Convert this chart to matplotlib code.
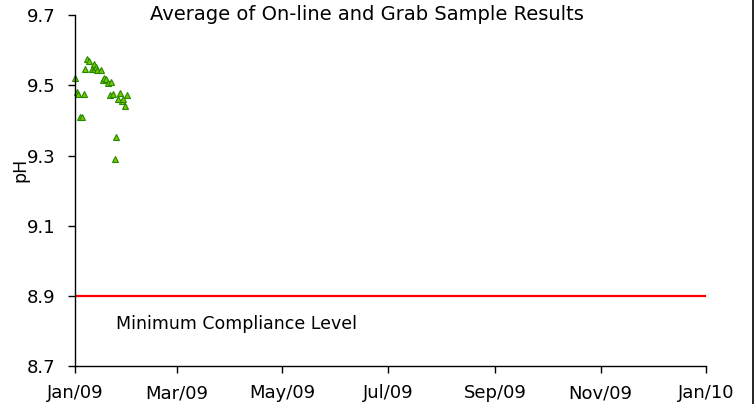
#!/usr/bin/env python3

import datetime as dt

import matplotlib
matplotlib.use('Agg')
import matplotlib.dates as mdates
import matplotlib.pyplot as plt
from matplotlib.lines import Line2D

plt.rcParams['font.family'] = ['DejaVu Sans']

# data (day of 2009, pH)
sample_days = [0, 1, 2, 3, 4, 5, 6, 7, 8, 10, 11, 11, 12, 13, 15, 16, 17, 18,
               19, 20, 21, 22, 23, 24, 25, 26, 27, 28, 29, 30]
sample_ph = [9.522, 9.482, 9.477, 9.411, 9.411, 9.477, 9.547, 9.576, 9.570,
             9.547, 9.548, 9.562, 9.552, 9.543, 9.545, 9.517, 9.522, 9.518,
             9.508, 9.474, 9.510, 9.476, 9.290, 9.354, 9.462, 9.479, 9.457,
             9.462, 9.442, 9.474]
min_compliance = 8.9
y_ticks = [8.7, 8.9, 9.1, 9.3, 9.5, 9.7]
title = 'Average of On-line and Grab Sample Results'
limit_label = 'Minimum Compliance Level'

start = dt.datetime(2009, 1, 1)
end = dt.datetime(2010, 1, 1)
dates = [start + dt.timedelta(days=d) for d in sample_days]

fig = plt.figure(figsize=(7.56, 4.04), dpi=100)
ax = fig.add_axes([0.0992, 0.094, 0.8347, 0.868])

ax.plot([start, end], [min_compliance, min_compliance], color='#ff0000', lw=1.6)
ax.plot(dates, sample_ph, ls='none', marker='^', ms=4.5,
        mfc='#7cc400', mec='#228b00', mew=0.8, clip_on=False)

ax.text(start + dt.timedelta(days=23.5), 8.82, limit_label,
        fontsize=12.5, va='center', ha='left')

ax.set_xlim(start, end)
ax.set_ylim(8.7, 9.7)
ax.set_yticks(y_ticks)
ax.set_yticklabels([f'{t:.1f}' for t in y_ticks])
ax.xaxis.set_major_locator(mdates.MonthLocator(bymonth=[1, 3, 5, 7, 9, 11]))
ax.xaxis.set_major_formatter(mdates.DateFormatter('%b/%y'))
ax.set_ylabel('pH', fontsize=12.5)
ax.yaxis.set_label_coords(-0.073, 0.56)

for side in ['top', 'right']:
    ax.spines[side].set_visible(False)
for side in ['left', 'bottom']:
    ax.spines[side].set_linewidth(1.0)
ax.tick_params(axis='both', labelsize=13, length=5, width=1, direction='out')
ax.tick_params(axis='x', pad=8)
ax.tick_params(axis='y', pad=9)

fig.text(0.486, 0.964, title, ha='center', va='center', fontsize=14)

# border line at the right edge of the picture
fig.add_artist(Line2D([0.996, 0.996], [0, 1], transform=fig.transFigure,
                      color='black', lw=1.2))

fig.savefig('out.png', dpi=100)
